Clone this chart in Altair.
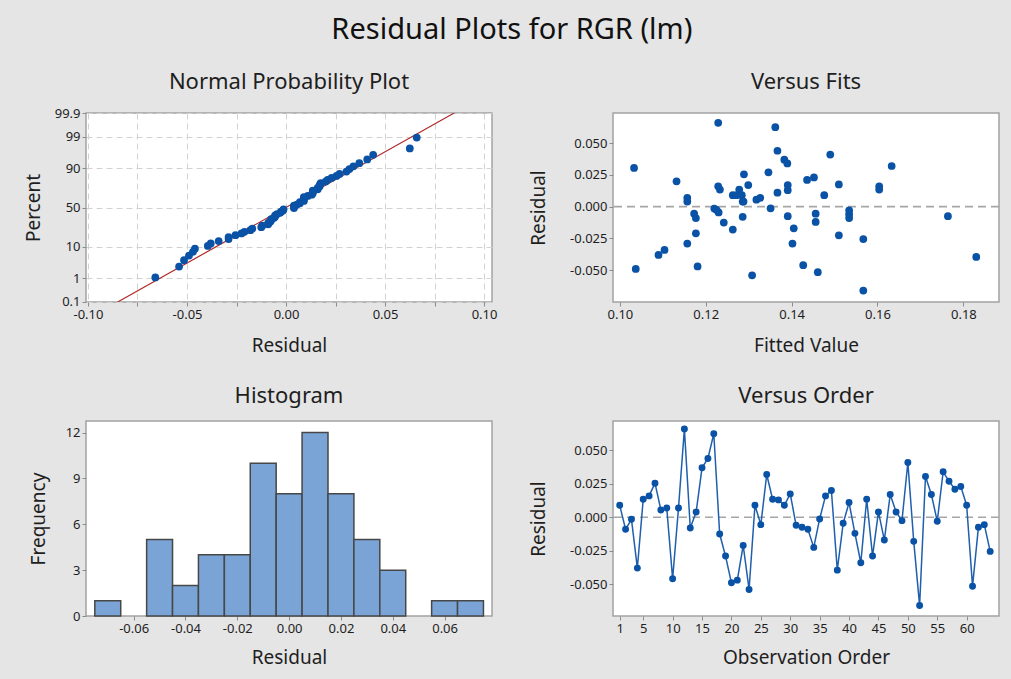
import altair as alt
import pandas as pd
from statistics import NormalDist

# ---------------- data ----------------
obs = list(range(1, 65))
residuals = [
    0.009, -0.009, -0.0015, -0.038, 0.0135, 0.016, 0.0255, 0.0055, 0.007, -0.046,
    0.007, 0.066, -0.008, 0.004, 0.037, 0.044, 0.0625, -0.0125, -0.029, -0.049,
    -0.047, -0.021, -0.054, 0.009, -0.0055, 0.032, 0.0135, 0.013, 0.009, 0.0175,
    -0.006, -0.0075, -0.009, -0.0225, -0.00125, 0.016, 0.020, -0.0395, -0.0045, 0.011,
    -0.012, -0.034, 0.0135, -0.029, 0.004, -0.017, 0.017, 0.004, -0.0025, 0.041,
    -0.018, -0.066, 0.0305, 0.017, -0.003, 0.034, 0.027, 0.021, 0.023, 0.009,
    -0.0515, -0.0075, -0.0055, -0.0255,
]
fitted = [
    0.1263, 0.1177, 0.1220, 0.1090, 0.1233, 0.1604, 0.1289, 0.1318, 0.1157, 0.1427,
    0.1327, 0.1229, 0.1286, 0.1157, 0.1383, 0.1367, 0.1362, 0.1242, 0.1402, 0.1037,
    0.1181, 0.1177, 0.1308, 0.1272, 0.1173, 0.1633, 0.1278, 0.1391, 0.1476, 0.1510,
    0.1534, 0.1764, 0.1534, 0.1510, 0.1351, 0.1229, 0.1132, 0.1830, 0.1230, 0.1367,
    0.1456, 0.1104, 0.1604, 0.1157, 0.1288, 0.1405, 0.1299, 0.1286, 0.1225, 0.1490,
    0.1263, 0.1567, 0.1033, 0.1391, 0.1534, 0.1390, 0.1346, 0.1436, 0.1452, 0.1284,
    0.1461, 0.1391, 0.1456, 0.1567,
]
bin_centers = [-0.07, -0.06, -0.05, -0.04, -0.03, -0.02, -0.01, 0.0,
               0.01, 0.02, 0.03, 0.04, 0.05, 0.06, 0.07]
bin_counts = [1, 0, 5, 2, 4, 4, 10, 8, 12, 8, 5, 3, 0, 1, 1]
bin_width = 0.01

pct_ticks = [0.1, 1, 10, 50, 90, 99, 99.9]
np_x_ticks = [-0.10, -0.075, -0.05, -0.025, 0.0, 0.025, 0.05, 0.075, 0.10]
fit_x_ticks = [0.10, 0.12, 0.14, 0.16, 0.18]
res_y_ticks = [-0.05, -0.025, 0.0, 0.025, 0.05]
hist_x_ticks = [-0.06, -0.04, -0.02, 0.0, 0.02, 0.04, 0.06]
hist_y_ticks = [0, 3, 6, 9, 12]
order_ticks = [1, 5, 10, 15, 20, 25, 30, 35, 40, 45, 50, 55, 60]

res_df = pd.DataFrame({"obs": obs, "residual": residuals, "fitted": fitted})
hist_df = pd.DataFrame({"center": bin_centers, "count": bin_counts})
zero_df = pd.DataFrame({"y": [0.0]})

z_ticks = [NormalDist().inv_cdf(p / 100.0) for p in pct_ticks]

# ---------------- styling ----------------
FONT = "Noto Sans"
BLUE = "#0A52A5"
LINE_BLUE = "#1F5FAD"
BAR_FILL = "#7BA4D6"
TXT = "#1E1E1E"

LW, RW = 406, 386
H1, H2 = 189, 195
ZMAX = 3.1


def ptitle(text, offset):
    return alt.TitleParams(text, fontSize=22, font=FONT, fontWeight="normal",
                           color=TXT, anchor="middle", frame="group", offset=offset)


def xaxis(title, width, values, fmt=None, label_expr=None, grid=False, ty=43):
    kw = dict(title=title, values=values, grid=grid, titleX=width / 2, titleY=ty,
              titleBaseline="middle", titleAlign="center", labelOverlap=False)
    if fmt:
        kw["format"] = fmt
    if label_expr:
        kw["labelExpr"] = label_expr
    if grid:
        kw.update(gridDash=[6, 4], gridColor="#D2D2D2", gridWidth=1)
    return alt.Axis(**kw)


def yaxis(title, height, values, tx, fmt=None, label_expr=None, grid=False):
    kw = dict(title=title, values=values, grid=grid, titleX=tx, titleY=height / 2,
              titleBaseline="middle", titleAlign="center", titleAngle=-90, labelOverlap=False)
    if fmt:
        kw["format"] = fmt
    if label_expr:
        kw["labelExpr"] = label_expr
    if grid:
        kw.update(gridDash=[6, 4], gridColor="#D2D2D2", gridWidth=1)
    return alt.Axis(**kw)


# ---------------- Normal probability plot ----------------
np_xscale = alt.Scale(domain=[-0.101, 0.104], nice=False, zero=False)
np_yscale = alt.Scale(domain=[-ZMAX, ZMAX], nice=False, zero=False)
np_xaxis = xaxis("Residual", LW, np_x_ticks,
                 label_expr="abs(round(datum.value*1000)) % 50 == 0 ? format(datum.value, '.2f') : ''",
                 grid=True)
np_yaxis = yaxis("Percent", H1, z_ticks, -53,
                 label_expr="'' + round(cumulativeNormal(datum.value)*1000)/10", grid=True)

np_line = (
    alt.Chart(res_df)
    .transform_aggregate(mu="mean(residual)", sd="stdev(residual)")
    .transform_calculate(zs=f"[{-ZMAX}, {ZMAX}]")
    .transform_flatten(["zs"])
    .transform_calculate(lx="datum.mu + datum.sd * datum.zs")
    .mark_line(color="#B22A2A", strokeWidth=1.2, clip=True)
    .encode(x=alt.X("lx:Q", scale=np_xscale, axis=np_xaxis),
            y=alt.Y("zs:Q", scale=np_yscale, axis=np_yaxis))
)
np_pts = (
    alt.Chart(res_df)
    .transform_joinaggregate(n="count()")
    .transform_window(rank="row_number()", sort=[alt.SortField("residual", order="ascending")])
    .transform_calculate(z="quantileNormal((datum.rank - 0.3) / (datum.n + 0.4))")
    .mark_circle(size=60, color=BLUE, opacity=1)
    .encode(x=alt.X("residual:Q", scale=np_xscale, axis=np_xaxis),
            y=alt.Y("z:Q", scale=np_yscale, axis=np_yaxis))
)
p1 = alt.layer(np_line, np_pts).properties(width=LW, height=H1,
                                           title=ptitle("Normal Probability Plot", 13))

# ---------------- Versus fits ----------------
vf_xscale = alt.Scale(domain=[0.0984, 0.1883], nice=False, zero=False)
vf_yscale = alt.Scale(domain=[-0.075, 0.0737], nice=False, zero=False)
vf_xaxis = xaxis("Fitted Value", RW, fit_x_ticks, fmt=".2f")
vf_yaxis = yaxis("Residual", H1, res_y_ticks, -75, fmt=".3f")
vf_rule = alt.Chart(zero_df).mark_rule(color="#A6A6A6", strokeDash=[8, 5], strokeWidth=1.6).encode(
    y=alt.Y("y:Q", scale=vf_yscale, axis=vf_yaxis))
vf_pts = alt.Chart(res_df).mark_circle(size=60, color=BLUE, opacity=1).encode(
    x=alt.X("fitted:Q", scale=vf_xscale, axis=vf_xaxis),
    y=alt.Y("residual:Q", scale=vf_yscale, axis=vf_yaxis),
)
p2 = alt.layer(vf_rule, vf_pts).properties(width=RW, height=H1, title=ptitle("Versus Fits", 19))

# ---------------- Histogram ----------------
h_xscale = alt.Scale(domain=[-0.0784, 0.0783], nice=False, zero=False)
h_yscale = alt.Scale(domain=[0, 12.76], nice=False, zero=False)
hist = (
    alt.Chart(hist_df)
    .transform_filter("datum.count > 0")
    .transform_calculate(lo=f"datum.center - {bin_width / 2}", hi=f"datum.center + {bin_width / 2}")
    .mark_bar(fill=BAR_FILL, stroke="#474747", strokeWidth=1.5)
    .encode(
        x=alt.X("lo:Q", scale=h_xscale, axis=xaxis("Residual", LW, hist_x_ticks, fmt=".2f", ty=41)),
        x2="hi:Q",
        y=alt.Y("count:Q", scale=h_yscale, axis=yaxis("Frequency", H2, hist_y_ticks, -48)),
        y2=alt.datum(0),
    )
)
p3 = hist.properties(width=LW, height=H2, title=ptitle("Histogram", 13))

# ---------------- Versus order ----------------
vo_xscale = alt.Scale(domain=[-0.14, 65.5], nice=False, zero=False)
vo_yscale = alt.Scale(domain=[-0.0738, 0.072], nice=False, zero=False)
vo_xaxis = xaxis("Observation Order", RW, order_ticks, ty=41)
vo_yaxis = yaxis("Residual", H2, res_y_ticks, -75, fmt=".3f")
vo_rule = alt.Chart(zero_df).mark_rule(color="#A6A6A6", strokeDash=[8, 5], strokeWidth=1.6).encode(
    y=alt.Y("y:Q", scale=vo_yscale, axis=vo_yaxis))
vo_line = alt.Chart(res_df).mark_line(color=LINE_BLUE, strokeWidth=1.5).encode(
    x=alt.X("obs:Q", scale=vo_xscale, axis=vo_xaxis),
    y=alt.Y("residual:Q", scale=vo_yscale, axis=vo_yaxis),
)
vo_pts = alt.Chart(res_df).mark_circle(size=48, color=BLUE, opacity=1).encode(
    x=alt.X("obs:Q", scale=vo_xscale, axis=vo_xaxis),
    y=alt.Y("residual:Q", scale=vo_yscale, axis=vo_yaxis))
p4 = alt.layer(vo_rule, vo_line, vo_pts).properties(width=RW, height=H2,
                                                    title=ptitle("Versus Order", 13))

chart = (
    alt.concat(p1, p2, p3, p4, columns=2, spacing={"row": 119, "column": 121}, bounds="flush")
    .properties(
        title=alt.TitleParams("Residual Plots for RGR (lm)", fontSize=29, font=FONT,
                              fontWeight="normal", color="#111111", anchor="middle", offset=25),
        autosize=alt.AutoSizeParams(type="none"),
        padding={"left": 86, "top": 113, "right": 925, "bottom": 566},
    )
    .configure(background="#E5E5E5",
               locale={"number": {"decimal": ".", "thousands": ",", "grouping": [3],
                                  "currency": ["$", ""], "minus": "-"}})
    .configure_view(fill="white", stroke="#A3A3A3", strokeWidth=1.5)
    .configure_axis(labelFont=FONT, labelFontSize=13, labelColor=TXT, tickColor="#8C8C8C",
                    tickSize=4, labelPadding=2, domain=False, titleFont=FONT, titleFontSize=19,
                    titleFontWeight="normal", titleColor=TXT)
)

chart.save("out.html", embed_options={"renderer": "svg", "actions": False})
